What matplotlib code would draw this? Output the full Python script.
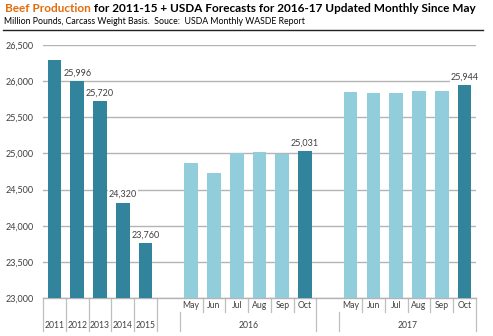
import matplotlib
matplotlib.use("Agg")
import matplotlib.pyplot as plt
from matplotlib.lines import Line2D

# ---- data (million pounds, carcass weight) ----
years = ["2011", "2012", "2013", "2014", "2015"]
year_values = [26292, 25996, 25720, 24320, 23760]
months = ["May", "Jun", "Jul", "Aug", "Sep", "Oct"]
forecast_2016 = [24863, 24725, 25001, 25015, 24992, 25031]
forecast_2017 = [25853, 25840, 25840, 25860, 25860, 25944]
group_labels = ["2016", "2017"]
yticks = [23000, 23500, 24000, 24500, 25000, 25500, 26000, 26500]

DARK = "#31849B"
LIGHT = "#92CDDC"
GRID = "#B4B4B4"
TXT = "#404040"
FONT = "Lato"

plt.rcParams["font.family"] = [FONT, "DejaVu Sans"]

W, H = 493, 336
fig = plt.figure(figsize=(W / 100, H / 100), dpi=100)
ax = fig.add_axes([43 / W, (H - 298) / H, (476 - 43) / W, (298 - 45) / H])

# slot positions: 5 years, gap, 6 months of 2016, gap, 6 months of 2017
x_years = list(range(0, 5))
x_2016 = list(range(6, 12))
x_2017 = list(range(13, 19))

bw = 0.6
ax.bar(x_years, year_values, width=bw, color=DARK, zorder=3)
c16 = [LIGHT] * 5 + [DARK]
c17 = [LIGHT] * 5 + [DARK]
ax.bar(x_2016, forecast_2016, width=bw, color=c16, zorder=3)
ax.bar(x_2017, forecast_2017, width=bw, color=c17, zorder=3)

ax.set_xlim(-0.5, 18.5)
ax.set_ylim(yticks[0], yticks[-1])
ax.set_yticks(yticks)
ax.set_yticklabels([f"{v:,}" for v in yticks], fontsize=6.5, color=TXT)
ax.tick_params(axis="y", length=0, pad=6.5)
ax.set_xticks([])
for s in ["top", "right", "left"]:
    ax.spines[s].set_visible(False)
ax.spines["bottom"].set_color(GRID)
ax.spines["bottom"].set_linewidth(1.0)
ax.grid(axis="y", color=GRID, linewidth=1.0, zorder=0)
ax.set_axisbelow(True)

# value labels
def label(x, v):
    ax.annotate(f"{v:,}", xy=(x, v), xytext=(0, 2.5), textcoords="offset points",
                ha="center", va="bottom", fontsize=6.5, color=TXT, zorder=4,
                bbox=dict(boxstyle="square,pad=0.1", fc="white", ec="none"))

for x, v in zip(x_years[1:], year_values[1:]):
    label(x, v)
label(x_2016[-1], forecast_2016[-1])
label(x_2017[-1], forecast_2017[-1])

# multi-level category axis
tr = ax.get_xaxis_transform()
ah = 298 - 45
y_short = -14 / ah
y_mid = -14 / ah
y_long = -33 / ah
sep_kw = dict(color="#BFBFBF", linewidth=0.9, transform=tr, clip_on=False)

for b in [-0.5, 0.5, 1.5, 2.5, 3.5, 4.5, 11.5, 18.5]:
    ax.add_line(Line2D([b, b], [0, y_long], **sep_kw))
for b in [5.5, 12.5]:
    ax.add_line(Line2D([b, b], [y_mid, y_long], **sep_kw))
for b in [6.5, 7.5, 8.5, 9.5, 10.5, 13.5, 14.5, 15.5, 16.5, 17.5]:
    ax.add_line(Line2D([b, b], [0, y_short], **sep_kw))

y_month = -8 / ah
y_year = -27.5 / ah
for xs in (x_2016, x_2017):
    for x, m in zip(xs, months):
        ax.text(x, y_month, m, transform=tr, ha="center", va="center",
                fontsize=6.2, color=TXT)
for x, yl in zip(x_years, years):
    ax.text(x, y_year, yl, transform=tr, ha="center", va="center",
            fontsize=6.2, color=TXT)
for xs, g in zip((x_2016, x_2017), group_labels):
    ax.text(sum(xs) / len(xs), y_year, g, transform=tr, ha="center",
            va="center", fontsize=6.2, color=TXT)

# header: two-colour title, subtitle and rule
fig.canvas.draw()
r = fig.canvas.get_renderer()

def fit_text(x0, y, s, target_w, **kw):
    t = fig.text(x0 / W, 1 - y / H, s, ha="left", va="baseline", **kw)
    w = t.get_window_extent(r).width
    t.set_fontsize(t.get_fontsize() * target_w / w)
    return t

title_a = "Beef Production"
title_b = " for 2011-15 + USDA Forecasts for 2016-17 Updated Monthly Since May"
ta = fig.text(5 / W, 1 - 11.5 / H, title_a, ha="left", va="baseline",
              fontsize=9, fontweight="bold", color="#E46C0A")
tb = fig.text(0, 1 - 11.5 / H, title_b, ha="left", va="baseline",
              fontsize=9, fontweight="bold", color="black")
wa = ta.get_window_extent(r).width
wb = tb.get_window_extent(r).width
scale = (472 - 5) / (wa + wb)
ta.set_fontsize(9 * scale)
tb.set_fontsize(9 * scale)
wa = ta.get_window_extent(r).width
tb.set_x((5 + wa) / W)

fit_text(4, 24.5, "Million Pounds, Carcass Weight Basis.  Souce:  USDA Monthly WASDE Report",
         308 - 4, fontsize=7, color="black")

fig.add_artist(Line2D([3 / W, 483 / W], [1 - 29.5 / H, 1 - 29.5 / H],
                      color="#222222", linewidth=1.0, transform=fig.transFigure))

fig.savefig("out.png", dpi=100)
